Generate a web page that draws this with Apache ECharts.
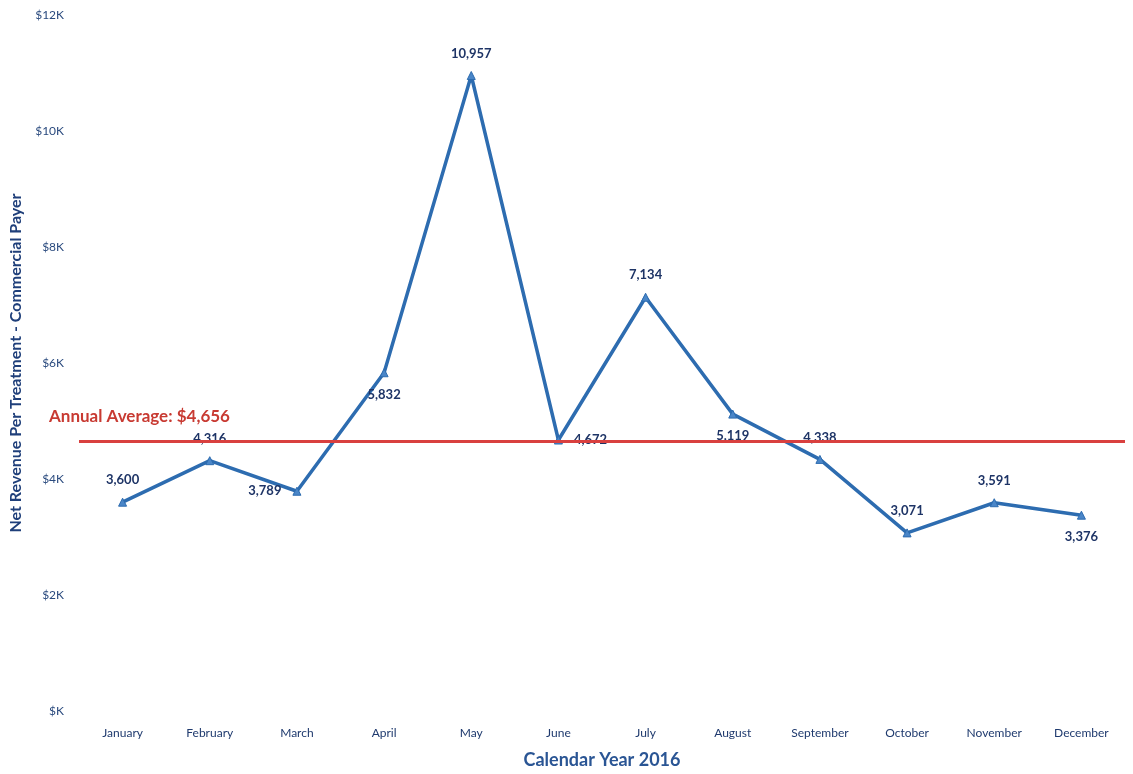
<!DOCTYPE html>
<html>
<head>
<meta charset="utf-8">
<script src="https://cdn.jsdelivr.net/npm/echarts@6/dist/echarts.min.js"></script>
<style>
html,body{margin:0;padding:0;background:#fff;}
#chart{width:1133px;height:774px;}
</style>
</head>
<body>
<div id="chart"></div>
<script>
const months = ["January","February","March","April","May","June","July","August","September","October","November","December"];
const revenue = [3600, 4316, 3789, 5832, 10957, 4672, 7134, 5119, 4338, 3071, 3591, 3376];
const labelPositions = ["top","top","left","bottom","top","right","top","bottom","top","top","top","bottom"];
const annualAverage = 4656;
const yTicks = [0, 2000, 4000, 6000, 8000, 10000, 12000];

const FONT = "Lato, 'Open Sans', sans-serif";
const chart = echarts.init(document.getElementById('chart'));
chart.setOption({
  animation: false,
  backgroundColor: '#ffffff',
  grid: { left: 78, right: 8, top: 15, bottom: 58 },
  xAxis: {
    type: 'category',
    data: months,
    boundaryGap: true,
    axisLine: { show: false },
    axisTick: { show: false },
    axisLabel: { color: '#1f3a6e', fontSize: 12, fontFamily: FONT, margin: 16 },
    name: 'Calendar Year 2016',
    nameLocation: 'middle',
    nameGap: 40,
    nameTextStyle: { color: '#2a5594', fontSize: 18, fontWeight: 'bold', fontFamily: FONT }
  },
  yAxis: {
    type: 'value',
    min: yTicks[0],
    max: yTicks[yTicks.length - 1],
    interval: 2000,
    splitLine: { show: false },
    axisLine: { show: false },
    axisTick: { show: false },
    axisLabel: {
      color: '#2a4a7e', fontSize: 12, fontFamily: FONT, margin: 15,
      formatter: v => v === 0 ? '$K' : '$' + (v / 1000) + 'K'
    },
    name: 'Net Revenue Per Treatment - Commercial Payer',
    nameLocation: 'middle',
    nameGap: 55,
    nameTextStyle: { color: '#1f3f7a', fontSize: 16, fontWeight: 'bold', fontFamily: FONT }
  },
  series: [{
    type: 'line',
    data: revenue.map((v, i) => ({
      value: v,
      label: { position: labelPositions[i] }
    })),
    symbol: 'triangle',
    symbolSize: 8,
    lineStyle: { color: '#2d6cb0', width: 3.5 },
    itemStyle: { color: '#4a86c8', borderColor: '#2d6cb0', borderWidth: 1 },
    label: {
      show: true,
      color: '#1e3466',
      fontWeight: 'bold',
      fontSize: 13,
      fontFamily: FONT,
      distance: 11,
      formatter: p => p.value.toLocaleString('en-US')
    },
    markLine: {
      silent: true,
      symbol: 'none',
      lineStyle: { color: '#d9403f', width: 3, type: 'solid' },
      label: {
        show: true,
        position: 'insideStartTop',
        formatter: 'Annual Average: $' + annualAverage.toLocaleString('en-US'),
        color: '#c83a32',
        fontSize: 17,
        fontWeight: 'bold',
        fontFamily: FONT,
        distance: [-30, 16]
      },
      data: [{ yAxis: annualAverage }]
    }
  }]
});
</script>
</body>
</html>
